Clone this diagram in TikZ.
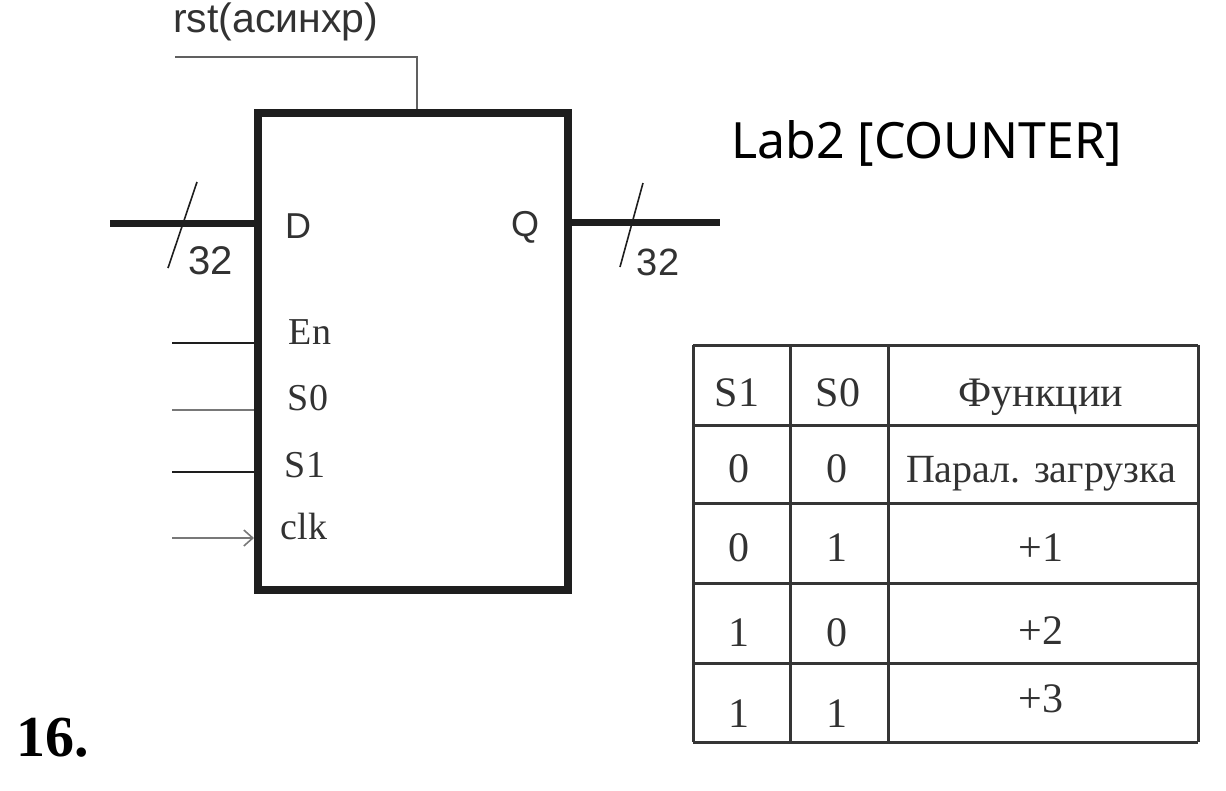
\documentclass[tikz,border=0pt]{standalone}
\usepackage{fontspec}
\setmainfont{Liberation Serif}
\newfontfamily\arialf{Liberation Sans}
\newfontfamily\labf{Noto Sans}
\usepackage{xcolor}
\usetikzlibrary{arrows.meta,positioning,calc}
\definecolor{lnblack}{RGB}{30,30,30}
\definecolor{lngray}{RGB}{120,120,120}
\definecolor{txgray}{RGB}{50,50,50}

\begin{document}
\begin{tikzpicture}[
 x=1pt,y=-1pt,
 block/.style={draw=lnblack,line width=8pt,minimum width=310pt,minimum height=477pt,inner sep=0pt},
 bus/.style={draw=lnblack,line width=7pt},
 wire/.style={draw=lnblack,line width=1.6pt},
 gwire/.style={draw=lngray,line width=2.4pt},
 slash/.style={draw=lnblack,line width=1.6pt},
 pin/.style={font=\fontsize{38}{44}\selectfont,text=txgray,inner sep=0pt},
 spin/.style={font=\arialf\fontsize{36}{42}\selectfont,text=txgray,inner sep=0pt},
 cell/.style={font=\fontsize{42}{48}\selectfont,text=txgray,inner sep=0pt,anchor=base},
 grid/.style={draw=lnblack!90,line width=3pt}
]
\useasboundingbox (0,0) rectangle (1226,790);

% counter block
\node[block] (cnt) at (413,351.5) {};

% asynchronous reset
\node[font=\arialf\fontsize{41}{46}\selectfont,text=txgray,anchor=west,inner sep=0pt] (rstlab) at (173,22) {rst(асинхр)};
\coordinate (rstin) at (175,57);
\draw[wire,draw=lngray!80!black] (rstin) -| ($(cnt.north)+(4,0)$);

% data bus in / out
\coordinate (din) at (110,223);
\coordinate (qout) at (720,222);
\draw[bus] (din) -- (din -| cnt.west);
\draw[bus] (qout -| cnt.east) -- (qout);
\draw[slash] (197,182) -- (168,268);
\draw[slash] (643,183) -- (620,267);
\node[spin,font=\arialf\fontsize{40}{46}\selectfont] (dw) at (211,261) {32};
\node[spin,font=\arialf\fontsize{38}{44}\selectfont] (qw) at (658,262) {32};
\node[spin,anchor=base] (dlab) at (298,238) {D};
\node[spin,anchor=base] (qlab) at (525,236) {Q};

% control inputs
\coordinate (en) at (172,343);
\coordinate (s0) at (172,410);
\coordinate (s1) at (172,472);
\coordinate (clk) at (172,538);
\draw[wire] (en) -- (en -| cnt.west);
\draw[gwire] (s0) -- (s0 -| cnt.west);
\draw[wire] (s1) -- (s1 -| cnt.west);
\draw[gwire,-{Straight Barb[length=9pt,width=16pt,line width=1.6pt]}] (clk) -- (clk -| cnt.west);
\node[pin] (enlab) at (310,332) {En};
\node[pin] (s0lab) at (308,398) {S0};
\node[pin] (s1lab) at (305,465) {S1};
\node[pin] (clklab) at (304,526) {clk};

% title
\node[font=\labf\fontsize{50}{56}\selectfont,anchor=west,inner sep=0pt] (title) at (731,143) {Lab2 [COUNTER]};

% function table
\foreach \y in {345,425,503,583,663,742}
  \draw[grid] (693,\y) -- (1198,\y);
\foreach \x in {693,790,888,1198}
  \draw[grid] (\x,345) -- (\x,742);
\node[cell] (h1) at (737,406) {S1};
\node[cell] (h2) at (838,406) {S0};
\node[cell] (h3) at (1041,406) {Функции};
\foreach \r/\yb/\yf/\a/\b/\f in {1/482/482/0/0/{\fontsize{40}{46}\selectfont Парал. загрузка},2/561/561/0/1/+1,3/646/644/1/0/+2,4/727/712/1/1/+3}{
  \node[cell] (r\r a) at (739,\yb) {\a};
  \node[cell] (r\r b) at (837,\yb) {\b};
  \node[cell] (r\r f) at (1041,\yf) {\f};
}

% task number
\node[font=\bfseries\fontsize{58}{64}\selectfont,anchor=west,inner sep=0pt] (num) at (16,738) {16.};
\end{tikzpicture}
\end{document}
